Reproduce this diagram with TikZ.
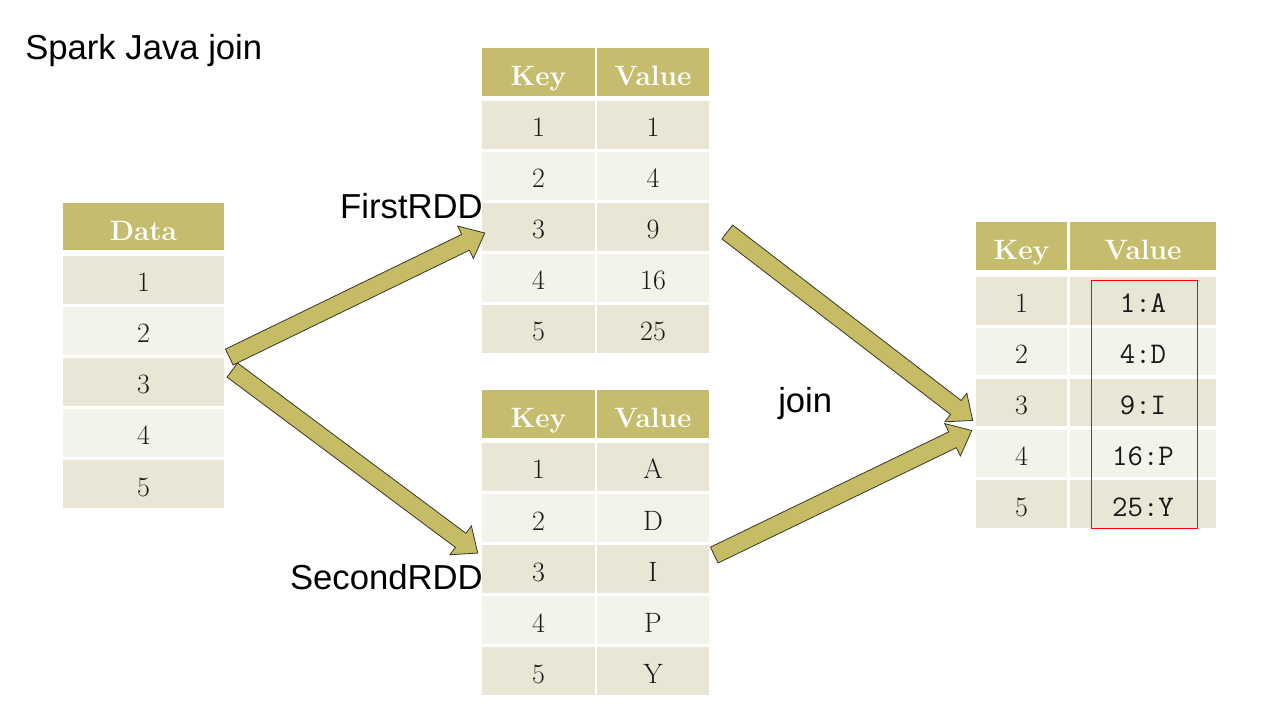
\documentclass[tikz,border=0pt]{standalone}
\usepackage{fontspec}
\usepackage{tikz}
\usetikzlibrary{positioning, calc}
\usepackage{xcolor}

\newfontfamily\labelfont{Liberation Sans}
\newcommand{\cellfont}{\fontsize{21}{23}\selectfont}
\newcommand{\headfont}{\fontsize{21}{23}\selectfont\bfseries}

\definecolor{headcol}{RGB}{198,188,110}
\definecolor{rowdark}{RGB}{233,230,213}
\definecolor{rowlight}{RGB}{244,243,235}
\definecolor{arrowfill}{RGB}{198,188,102}
\definecolor{arrowline}{RGB}{55,55,35}

% block arrow from tail to tip
\newcommand{\joinarrow}[2]{%
  \coordinate (neck) at ($(#2)!16pt!(#1)$);
  \draw[arrowbody] ($(#1)!6.6pt!90:(#2)$) -- ($(neck)!6.6pt!90:(#2)$) -- ($(neck)!13.5pt!90:(#2)$) -- (#2)
    -- ($(neck)!13.5pt!-90:(#2)$) -- ($(neck)!6.6pt!-90:(#2)$) -- ($(#1)!6.6pt!-90:(#2)$) -- cycle;}

\begin{document}
\begin{tikzpicture}[
        x=0.75pt, y=-0.75pt,
        cell/.style={rectangle, minimum height=35.5pt, inner sep=0pt, text height=19pt, text depth=1pt, text=black!90, font=\cellfont},
        head/.style={cell, fill=headcol, text=white, font=\headfont, text height=22pt},
        oddrow/.style={cell, fill=rowdark},
        evenrow/.style={cell, fill=rowlight},
        resval/.style={font=\fontsize{22.5}{24}\selectfont\ttfamily},
        note/.style={font=\labelfont\fontsize{26}{30}\selectfont, inner sep=0pt, text=black},
        arrowbody/.style={fill=arrowfill, draw=arrowline, line width=0.6pt, line join=miter}
    ]
    \useasboundingbox (0,0) rectangle (1288,712);

    % TITULO
    \node[note, anchor=base west] (title) at (25,60) {Spark Java join};

    % TABLA DATA
    \node[head, minimum width=120.75pt] (d0) at (143.5,226.5) {Data};
    \foreach \v/\s [count=\i] in {1/oddrow, 2/evenrow, 3/oddrow, 4/evenrow, 5/oddrow}
        \node[\s, minimum width=120.75pt] (d\i) at (143.5,{280+51*(\i-1)}) {\v};

    % FIRST RDD
    \node[head, minimum width=84.75pt] (fk0) at (538.5,72) {Key};
    \node[head, minimum width=84pt] (fv0) at (653,72) {Value};
    \foreach \v/\s [count=\i] in {1/oddrow, 4/evenrow, 9/oddrow, 16/evenrow, 25/oddrow} {
        \node[\s, minimum width=84.75pt] (fk\i) at (538.5,{125+51*(\i-1)}) {\i};
        \node[\s, minimum width=84pt] (fv\i) at (653,{125+51*(\i-1)}) {\v};
    }
    \node[note, anchor=base east] (first) at (483,219) {FirstRDD};

    % SECOND RDD
    \node[head, minimum width=84.75pt] (sk0) at (538.5,414) {Key};
    \node[head, minimum width=84pt] (sv0) at (653,414) {Value};
    \foreach \v/\s [count=\i] in {A/oddrow, D/evenrow, I/oddrow, P/evenrow, Y/oddrow} {
        \node[\s, minimum width=84.75pt] (sk\i) at (538.5,{467+51*(\i-1)}) {\i};
        \node[\s, minimum width=84pt] (sv\i) at (653,{467+51*(\i-1)}) {\v};
    }
    \node[note, anchor=base east] (second) at (483,589) {SecondRDD};

    % RESULTADO
    \node[head, minimum width=68.25pt] (rk0) at (1021.5,246) {Key};
    \node[head, minimum width=109.5pt] (rv0) at (1143,246) {Value};
    \foreach \v/\s [count=\i] in {1:A/oddrow, 4:D/evenrow, 9:I/oddrow, 16:P/evenrow, 25:Y/oddrow} {
        \node[\s, minimum width=68.25pt] (rk\i) at (1021.5,{301+50.75*(\i-1)}) {\i};
        \node[\s, resval, minimum width=109.5pt] (rv\i) at (1143,{301+50.75*(\i-1)}) {\v};
    }
    \draw[red, line width=0.75pt] ($(rv1.north west)+(22,3)$) rectangle ($(rv5.south east)+(-19,1)$);

    \node[note, anchor=base west] (join) at (778,413) {join};

    % Flechas
    \coordinate (a1s) at ($(d3.north east)+(5,-1)$);
    \coordinate (a1e) at ($(fk3.west)+(3,6)$);
    \coordinate (a2s) at ($(d3.north east)+(8,12)$);
    \coordinate (a2e) at ($(sk3.north west)+(-4,8)$);
    \coordinate (a3s) at ($(fv3.east)+(18,5)$);
    \coordinate (a3e) at ($(rk3.west)+(-3,18)$);
    \coordinate (a4s) at ($(sv3.north east)+(5,10)$);
    \coordinate (a4e) at ($(rk3.west)+(-4,28)$);
    \joinarrow{a2s}{a2e}
    \joinarrow{a1s}{a1e}
    \joinarrow{a3s}{a3e}
    \joinarrow{a4s}{a4e}
\end{tikzpicture}
\end{document}
